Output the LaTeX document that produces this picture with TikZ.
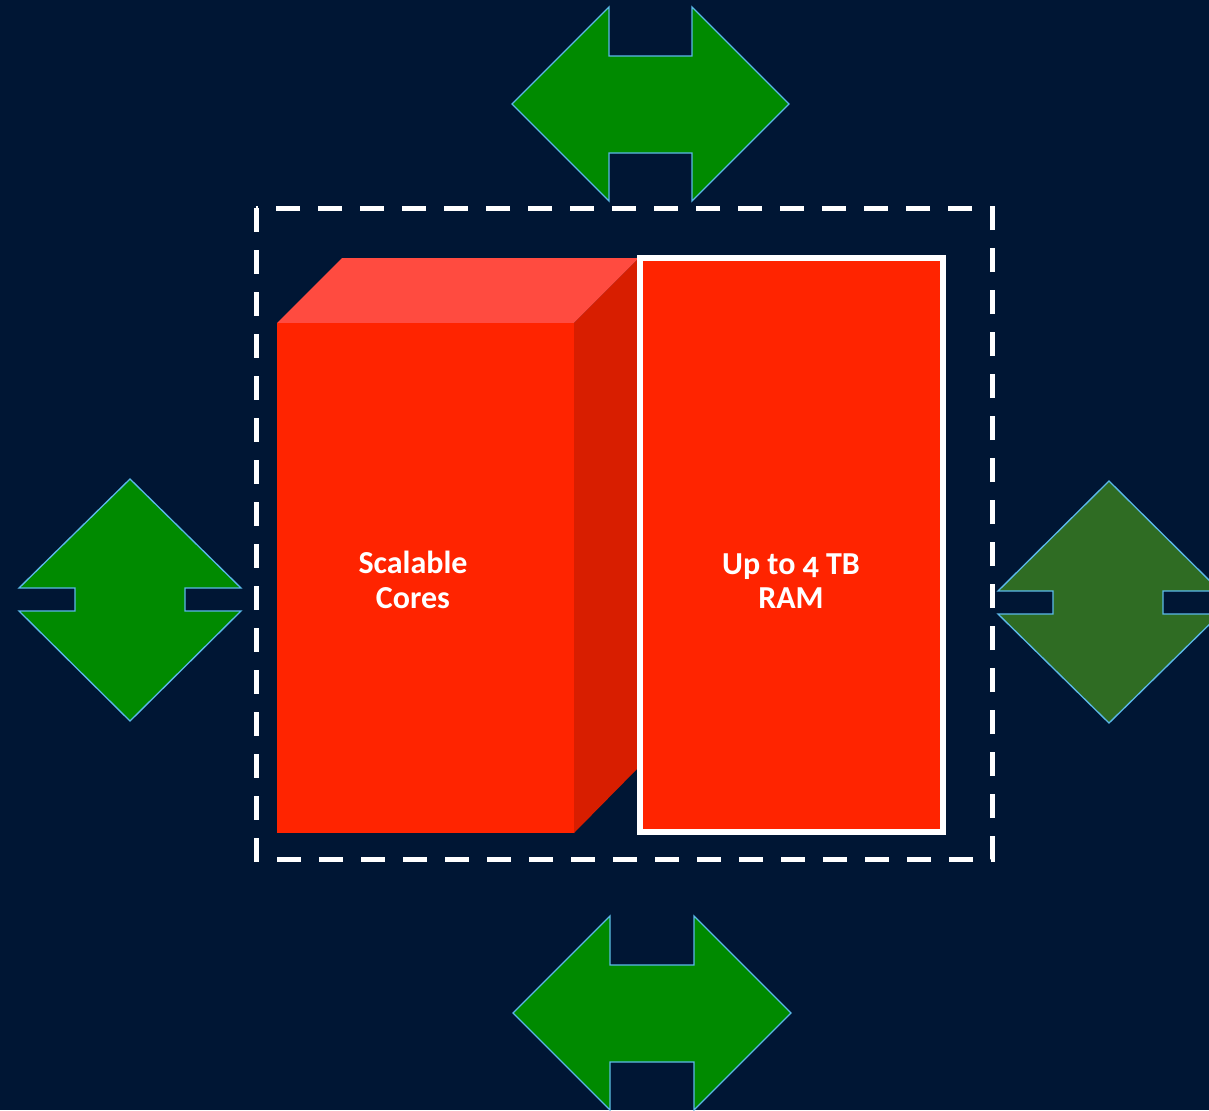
\documentclass[tikz,border=0pt]{standalone}
\usepackage{fontspec}
\setmainfont{Carlito}[Numbers=OldStyle]
\definecolor{bgnavy}{HTML}{001634}
\definecolor{arrgreen}{HTML}{008A00}
\definecolor{arrdark}{HTML}{2F6C23}
\definecolor{arrline}{HTML}{5BB8E8}
\definecolor{redfront}{HTML}{FF2400}
\definecolor{redtop}{HTML}{FF4B40}
\definecolor{redside}{HTML}{D81E00}
\tikzset{
  bigarrow/.style={fill=arrgreen, draw=arrline, line width=1pt, line join=miter},
  darkarrow/.style={bigarrow, fill=arrdark},
  dashbox/.style={draw=white, line width=3.75pt, dash pattern=on 18pt off 13.5pt},
  ramrect/.style={fill=redfront, draw=white, line width=4.5pt},
  label/.style={text=white, font=\bfseries\fontsize{24}{26}\selectfont, align=center}
}
\begin{document}
\begin{tikzpicture}[x=0.75pt, y=-0.75pt]
\useasboundingbox (0,0) rectangle (1209,1110);
\fill[bgnavy] (0,0) rectangle (1209,1110);
\clip (0,0) rectangle (1209,1110);
% top horizontal double arrow
\draw[bigarrow] (512,104) -- (609,7) -- (609,56) -- (692,56) -- (692,7) -- (789,104)
  -- (692,201) -- (692,153) -- (609,153) -- (609,201) -- cycle;
% bottom horizontal double arrow
\draw[bigarrow] (513,1013) -- (610,916) -- (610,965) -- (694,965) -- (694,916) -- (791,1013)
  -- (694,1110) -- (694,1062) -- (610,1062) -- (610,1110) -- cycle;
% left vertical double arrow
\draw[bigarrow] (130,479) -- (241,588) -- (185,588) -- (185,611) -- (241,611) -- (130,721)
  -- (19,611) -- (75,611) -- (75,588) -- (19,588) -- cycle;
% right vertical double arrow (darker)
\draw[darkarrow] (1109,481) -- (1220,591) -- (1163,591) -- (1163,614) -- (1220,614) -- (1109,723)
  -- (998,614) -- (1053,614) -- (1053,591) -- (998,591) -- cycle;
% dashed frame
\draw[dashbox] (256,208) rectangle (992,859);
% cube
\fill[redtop] (277,323) -- (342,258) -- (639,258) -- (574,323) -- cycle;
\fill[redside] (574,323) -- (639,258) -- (639,767) -- (574,833) -- cycle;
\fill[redfront] (277,323) rectangle (574,833);
\node[label] (cores) at (413,580) {Scalable\\Cores};
% RAM
\draw[ramrect] (640,258) rectangle (943,832);
\node[label] (ram) at (791,581) {Up to 4 TB\\RAM};
\end{tikzpicture}
\end{document}
